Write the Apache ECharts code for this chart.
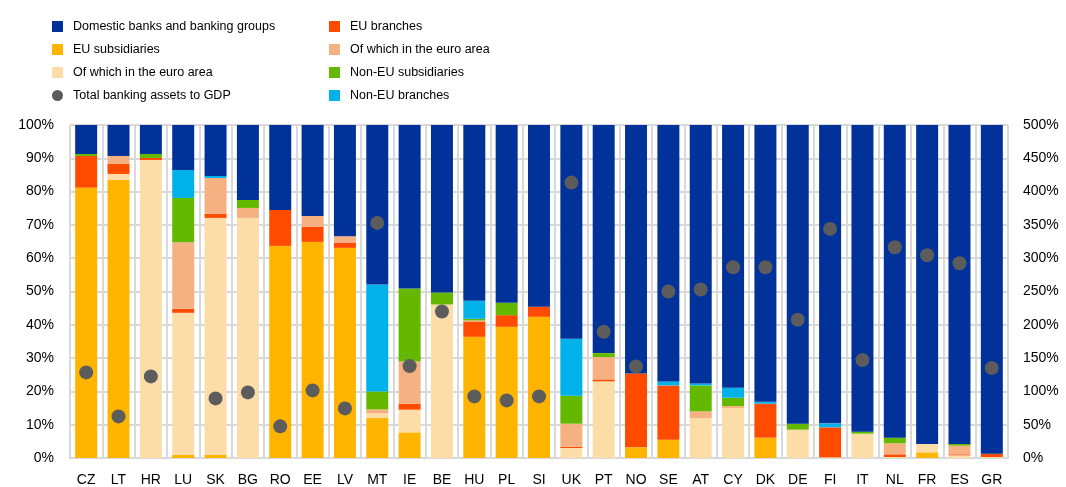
<!DOCTYPE html>
<html>
<head>
<meta charset="utf-8">
<script src="https://cdn.jsdelivr.net/npm/echarts@6/dist/echarts.min.js"></script>
<style>
  html, body { margin: 0; padding: 0; background: #fff; }
  #chart { width: 1066px; height: 487px; }
</style>
</head>
<body>
<div id="chart"></div>
<script>
// countries
var countries = ['CZ','LT','HR','LU','SK','BG','RO','EE','LV','MT','IE','BE','HU','PL','SI','UK','PT','NO','SE','AT','CY','DK','DE','FI','IT','NL','FR','ES','GR']

// shares of total banking assets (%)
var euSubs      = [81.2, 83.5, 0, 1.0, 1.0, 0, 63.7, 64.9, 63.1, 12.0, 7.7, 0, 36.4, 39.4, 42.4, 0, 0, 3.2, 5.5, 0, 0, 6.1, 0, 0, 0, 0, 1.7, 0, 0]
var euSubsEA    = [0, 1.8, 89.5, 42.6, 71.1, 72.1, 0, 0, 0, 1.4, 6.8, 46.1, 0, 0, 0, 3.0, 23.0, 0, 0, 12.0, 15.0, 0, 8.5, 0.2, 7.3, 0.3, 2.5, 0.8, 0.3]
var euBranches  = [9.5, 3.0, 0.6, 1.2, 1.2, 0, 10.8, 4.6, 1.6, 0, 1.8, 0, 4.6, 3.5, 3.0, 0.4, 0.6, 22.2, 16.3, 0, 0, 10.2, 0, 9.0, 0, 0.8, 0, 0.3, 1.0]
var euBranchEA  = [0, 2.4, 0, 20.0, 10.8, 3.0, 0, 3.2, 1.9, 1.2, 12.7, 0, 0.3, 0, 0, 6.9, 6.7, 0, 0, 2.0, 0.6, 0, 0, 0, 0, 3.3, 0, 2.6, 0]
var nonEuSubs   = [0.6, 0, 1.2, 13.3, 0, 2.4, 0, 0, 0, 5.4, 21.9, 3.6, 0.5, 3.7, 0, 8.4, 1.2, 0, 0, 7.8, 2.5, 0, 1.8, 0, 0.6, 1.7, 0, 0.5, 0]
var nonEuBranch = [0, 0, 0, 8.4, 0.6, 0, 0, 0, 0, 32.1, 0, 0, 5.4, 0, 0, 17.1, 0, 0, 1.2, 0.6, 3.0, 0.6, 0, 1.2, 0, 0, 0, 0, 0]
var domestic    = [8.7, 9.3, 8.7, 13.5, 15.3, 22.5, 25.5, 27.3, 33.4, 47.9, 49.1, 50.3, 52.8, 53.4, 54.6, 64.2, 68.5, 74.6, 77.0, 77.6, 78.9, 83.1, 89.7, 89.6, 92.1, 93.9, 95.8, 95.8, 98.7]

// total banking assets to GDP (%), right axis
var assetsToGdp = [128.5, 62.5, 122.5, null, 89.5, 98.5, 47.5, 101.5, 74.5, 353, 138, 220, 92.5, 86.5, 92.5, 413.5, 189.5, 137.5, 250, 253, 286.5, 286.5, 207.5, 344, 147, 316.5, 304.5, 292.5, 135]

var leftTicks = [0, 10, 100]
var rightTicks = [0, 50, 500]

var font = 'Liberation Sans, Arial, sans-serif'
var gridColor = '#d9d9d9'

var labels = {
  euBranchEA: 'Of which in the euro area'
}

function bar(name, data, color) {
  return {
    name: name,
    type: 'bar',
    stack: 'total',
    barWidth: '68%',
    data: data,
    itemStyle: { color: color },
    emphasis: { disabled: true }
  }
}

var legendText = { fontSize: 12.5, color: '#000', fontFamily: font, padding: [0, 0, 0, 5] }

var chart = echarts.init(document.getElementById('chart'))
chart.setOption({
  animation: false,
  textStyle: { fontFamily: font },
  legend: [
    {
      left: 47, top: 15, orient: 'vertical',
      itemWidth: 11, itemHeight: 11, itemGap: 10,
      textStyle: legendText,
      data: [
        { name: 'Domestic banks and banking groups', icon: 'rect' },
        { name: 'EU subsidiaries', icon: 'rect' },
        { name: 'Of which in the euro area', icon: 'rect' },
        { name: 'Total banking assets to GDP', icon: 'circle' }
      ]
    },
    {
      left: 324, top: 15, orient: 'vertical',
      itemWidth: 11, itemHeight: 11, itemGap: 10,
      textStyle: legendText,
      formatter: function (n) { return n === 'euBranchEA' ? labels.euBranchEA : n },
      data: [
        { name: 'EU branches', icon: 'rect' },
        { name: 'euBranchEA', icon: 'rect' },
        { name: 'Non-EU subsidiaries', icon: 'rect' },
        { name: 'Non-EU branches', icon: 'rect' }
      ]
    }
  ],
  grid: { left: 70, right: 58, top: 125, bottom: 28 },
  xAxis: {
    type: 'category',
    data: countries,
    axisTick: { show: false },
    axisLine: { lineStyle: { color: gridColor, width: 2 } },
    axisLabel: { color: '#000', fontSize: 14, margin: 15 },
    splitLine: { show: true, lineStyle: { color: gridColor, width: 2 } }
  },
  yAxis: [
    {
      type: 'value', min: leftTicks[0], max: leftTicks[2], interval: leftTicks[1],
      axisLabel: { formatter: '{value}%', color: '#000', fontSize: 14, margin: 16 },
      axisLine: { show: false }, axisTick: { show: false },
      splitLine: { lineStyle: { color: gridColor, width: 2 } }
    },
    {
      type: 'value', min: rightTicks[0], max: rightTicks[2], interval: rightTicks[1],
      axisLabel: { formatter: '{value}%', color: '#000', fontSize: 14, margin: 15 },
      axisLine: { show: false }, axisTick: { show: false },
      splitLine: { show: false }
    }
  ],
  series: [
    bar('EU subsidiaries', euSubs, '#ffb400'),
    bar('Of which in the euro area', euSubsEA, '#fddda7'),
    bar('EU branches', euBranches, '#ff4b00'),
    bar('euBranchEA', euBranchEA, '#f6b183'),
    bar('Non-EU subsidiaries', nonEuSubs, '#65b800'),
    bar('Non-EU branches', nonEuBranch, '#00b1ea'),
    bar('Domestic banks and banking groups', domestic, '#003299'),
    {
      name: 'Total banking assets to GDP',
      type: 'scatter',
      yAxisIndex: 1,
      symbolSize: 14,
      data: assetsToGdp,
      itemStyle: { color: '#5c5c5c', opacity: 1 },
      z: 5
    }
  ]
})
</script>
</body>
</html>
